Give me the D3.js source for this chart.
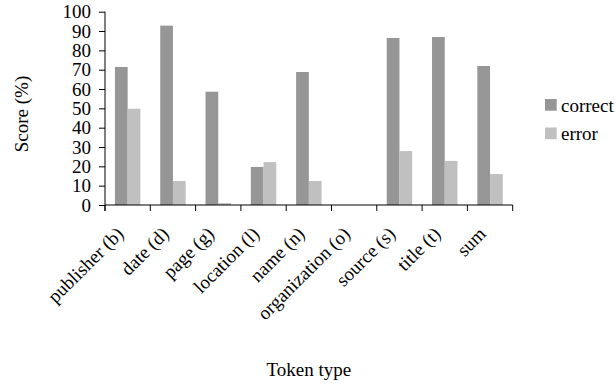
<!DOCTYPE html>
<html>
<head>
<meta charset="utf-8">
<script src="https://cdn.jsdelivr.net/npm/d3@7"></script>
<style>
  html, body { margin: 0; padding: 0; background: #fff; }
  svg { display: block; }
  svg text { font-family: "Liberation Serif", "Times New Roman", Times, serif !important; fill: #000; }
</style>
</head>
<body>
<svg id="chart" width="616" height="385" font-family="Liberation Serif, Times New Roman, serif"></svg>
<script>
const categories = ["publisher (b)", "date (d)", "page (g)", "location (l)", "name (n)", "organization (o)", "source (s)", "title (t)", "sum"];
const seriesNames = ["correct", "error"];
const correctValues = [71.4, 92.8, 58.6, 19.7, 68.8, 0, 86.4, 86.9, 71.9];
const errorValues = [49.8, 12.4, 1.0, 22.2, 12.4, 0, 27.9, 22.8, 16.0];
const yTicks = [0, 10, 20, 30, 40, 50, 60, 70, 80, 90, 100];
const colors = { correct: "#969696", error: "#c0c0c0" };

const data = categories.map((c, i) => ({ cat: c, correct: correctValues[i], error: errorValues[i] }));

const svg = d3.select("#chart");
const fontSize = 19;
const serif = "'Liberation Serif', 'Times New Roman', serif";

const x = d3.scaleBand().domain(categories).range([105, 512.7]).padding(0);
const x1 = d3.scaleBand().domain(seriesNames).range([0, x.bandwidth()]).paddingInner(0).paddingOuter(0.78);
const y = d3.scaleLinear().domain([0, 100]).range([205, 11.7]);

// bars
const groups = svg.append("g").selectAll("g").data(data).join("g")
  .attr("transform", d => `translate(${x(d.cat)},0)`);
groups.selectAll("rect").data(d => seriesNames.map(k => ({ key: k, value: d[k] }))).join("rect")
  .attr("x", d => x1(d.key))
  .attr("width", x1.bandwidth())
  .attr("y", d => y(d.value))
  .attr("height", d => y(0) - y(d.value))
  .attr("fill", d => colors[d.key]);

// y axis
const yAxis = svg.append("g").attr("transform", `translate(${x.range()[0]},0)`)
  .call(d3.axisLeft(y).tickValues(yTicks).tickSize(6).tickSizeOuter(0).tickPadding(8));
yAxis.attr("font-family", null).attr("font-size", null);
yAxis.selectAll("text").style("font-size", fontSize + "px").style("font-family", serif).attr("fill", "#000");
yAxis.selectAll("line, path").attr("stroke", "#000");
yAxis.select(".domain").attr("d", `M0,${y(100)}V${y(0) + 6}`);

// x axis
const xAxisG = svg.append("g");
xAxisG.append("line").attr("x1", x.range()[0]).attr("x2", x.range()[1]).attr("y1", y(0)).attr("y2", y(0)).attr("stroke", "#000");
const boundaries = categories.map(c => x(c)).concat([x.range()[1]]);
xAxisG.selectAll("line.tick").data(boundaries).join("line").attr("class", "tick")
  .attr("x1", d => d).attr("x2", d => d).attr("y1", y(0)).attr("y2", y(0) + 6).attr("stroke", "#000");

xAxisG.selectAll("text.lbl").data(categories).join("text").attr("class", "lbl")
  .style("font-size", fontSize + "px").style("font-family", serif)
  .attr("text-anchor", "end")
  .attr("transform", d => `translate(${x(d) + x.bandwidth() / 2 - 3},${y(0) + 30}) rotate(-45)`)
  .text(d => d);

// axis titles
svg.append("text").style("font-size", fontSize + "px").style("font-family", serif).attr("text-anchor", "middle")
  .attr("transform", `translate(28,114) rotate(-90)`).text("Score (%)");
svg.append("text").style("font-size", fontSize + "px").style("font-family", serif).attr("text-anchor", "middle")
  .attr("x", (x.range()[0] + x.range()[1]) / 2).attr("y", 376).text("Token type");

// legend
const legend = svg.append("g").attr("transform", "translate(545,99)");
const li = legend.selectAll("g").data(seriesNames).join("g")
  .attr("transform", (d, i) => `translate(0,${i * 28.5})`);
li.append("rect").attr("width", 11.7).attr("height", 11.7).attr("fill", d => colors[d]);
li.append("text").attr("x", 16).attr("y", 12.5).style("font-size", fontSize + "px").style("font-family", serif).text(d => d);
</script>
</body>
</html>
